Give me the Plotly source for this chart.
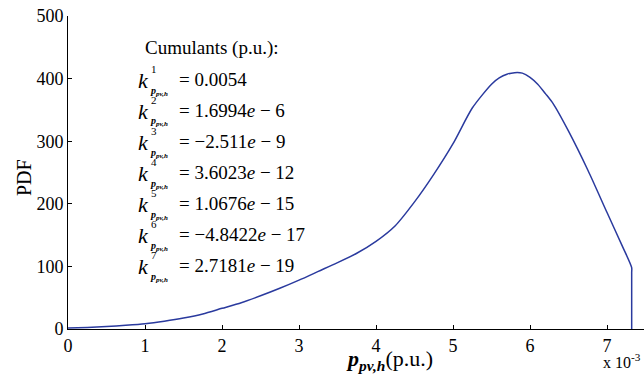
import plotly.graph_objects as go

# ---- data (x in units of 1e-3 p.u.) ----
x_vals = [0.0, 0.25, 0.5, 0.75, 1.0, 1.25, 1.5, 1.75, 2.0, 2.25, 2.5, 2.75, 3.0, 3.25, 3.5,
          3.75, 4.0, 4.25, 4.5, 4.75, 5.0, 5.25, 5.5, 5.6, 5.7, 5.8, 5.9, 6.0, 6.1, 6.2,
          6.3, 6.5, 6.75, 7.0, 7.2, 7.32, 7.32, 7.32]
pdf_vals = [1.5, 2.5, 4, 6, 8.5, 12.5, 17.5, 24, 33, 42, 53, 65, 78, 92, 106,
            121, 140, 165, 203, 247, 296, 353, 391, 401, 407, 409.5, 408.7, 402, 391, 376,
            360, 316, 254, 186, 132, 98, 90, 0]
x_ticks = [0, 1, 2, 3, 4, 5, 6, 7]
y_ticks = [0, 100, 200, 300, 400, 500]
cum_orders = ["1", "2", "3", "4", "5", "6", "7"]
cum_values = ["0.0054", "1.6994<i>e</i> − 6", "−2.511<i>e</i> − 9", "3.6023<i>e</i> − 12",
              "1.0676<i>e</i> − 15", "−4.8422<i>e</i> − 17", "2.7181<i>e</i> − 19"]

W, H = 644, 384
L, R, T, B = 68, 0, 16, 55
PW, PH = W - L - R, H - T - B

def px(x):
    return (x - L) / PW

def py(y):
    return 1 - (y - T) / PH

SERIF = "Liberation Serif"

fig = go.Figure()
fig.add_trace(go.Scatter(x=x_vals, y=pdf_vals, mode="lines",
                         line=dict(color="#2a3a9e", width=1.5, shape="spline", smoothing=0.7),
                         showlegend=False, hoverinfo="skip"))

ann = []

def add(x, y, text, size, **kw):
    d = dict(x=px(x), y=py(y), text=text, xref="paper", yref="paper", showarrow=False,
             xanchor=kw.pop("xanchor", "left"), yanchor=kw.pop("yanchor", "middle"),
             font=dict(family=SERIF, size=size, color="black"))
    d.update(kw)
    ann.append(d)

add(143, 48, "Cumulants (p.u.):", 19)
for i, (o, v) in enumerate(zip(cum_orders, cum_values)):
    yc = 79 + i * 31
    add(136, yc + 1, "<i>k</i>", 22)
    add(149, yc - 10, o, 11)
    add(148, yc + 12, "<b><i>p</i></b><sub><b><i>pv,h</i></b></sub>", 10)
    add(177, yc, "= " + v, 19)

add(24, 178, "PDF", 20, textangle=-90, xanchor="center")
add(344, 360, "<b><i>p</i></b><sub><b><i>pv,h</i></b></sub>(p.u.)", 22)
add(643, 361, "x 10<sup>-3</sup>", 16, xanchor="right")

fig.update_layout(
    width=W, height=H,
    margin=dict(l=L, r=R, t=T, b=B),
    paper_bgcolor="white", plot_bgcolor="white",
    font=dict(family=SERIF, size=18, color="black"),
    annotations=ann,
    xaxis=dict(range=[0, 7.48], tickvals=x_ticks, ticktext=[str(t) for t in x_ticks],
               showgrid=False, zeroline=False, showline=True, linecolor="black", linewidth=1,
               ticks="inside", ticklen=4, tickcolor="black",
               tickfont=dict(family=SERIF, size=18, color="black")),
    yaxis=dict(range=[0, 500], tickvals=y_ticks, ticktext=[str(t) for t in y_ticks],
               showgrid=False, zeroline=False, showline=True, linecolor="black", linewidth=1,
               ticks="inside", ticklen=4, tickcolor="black",
               tickfont=dict(family=SERIF, size=18, color="black")),
)

fig.write_html("out.html")
